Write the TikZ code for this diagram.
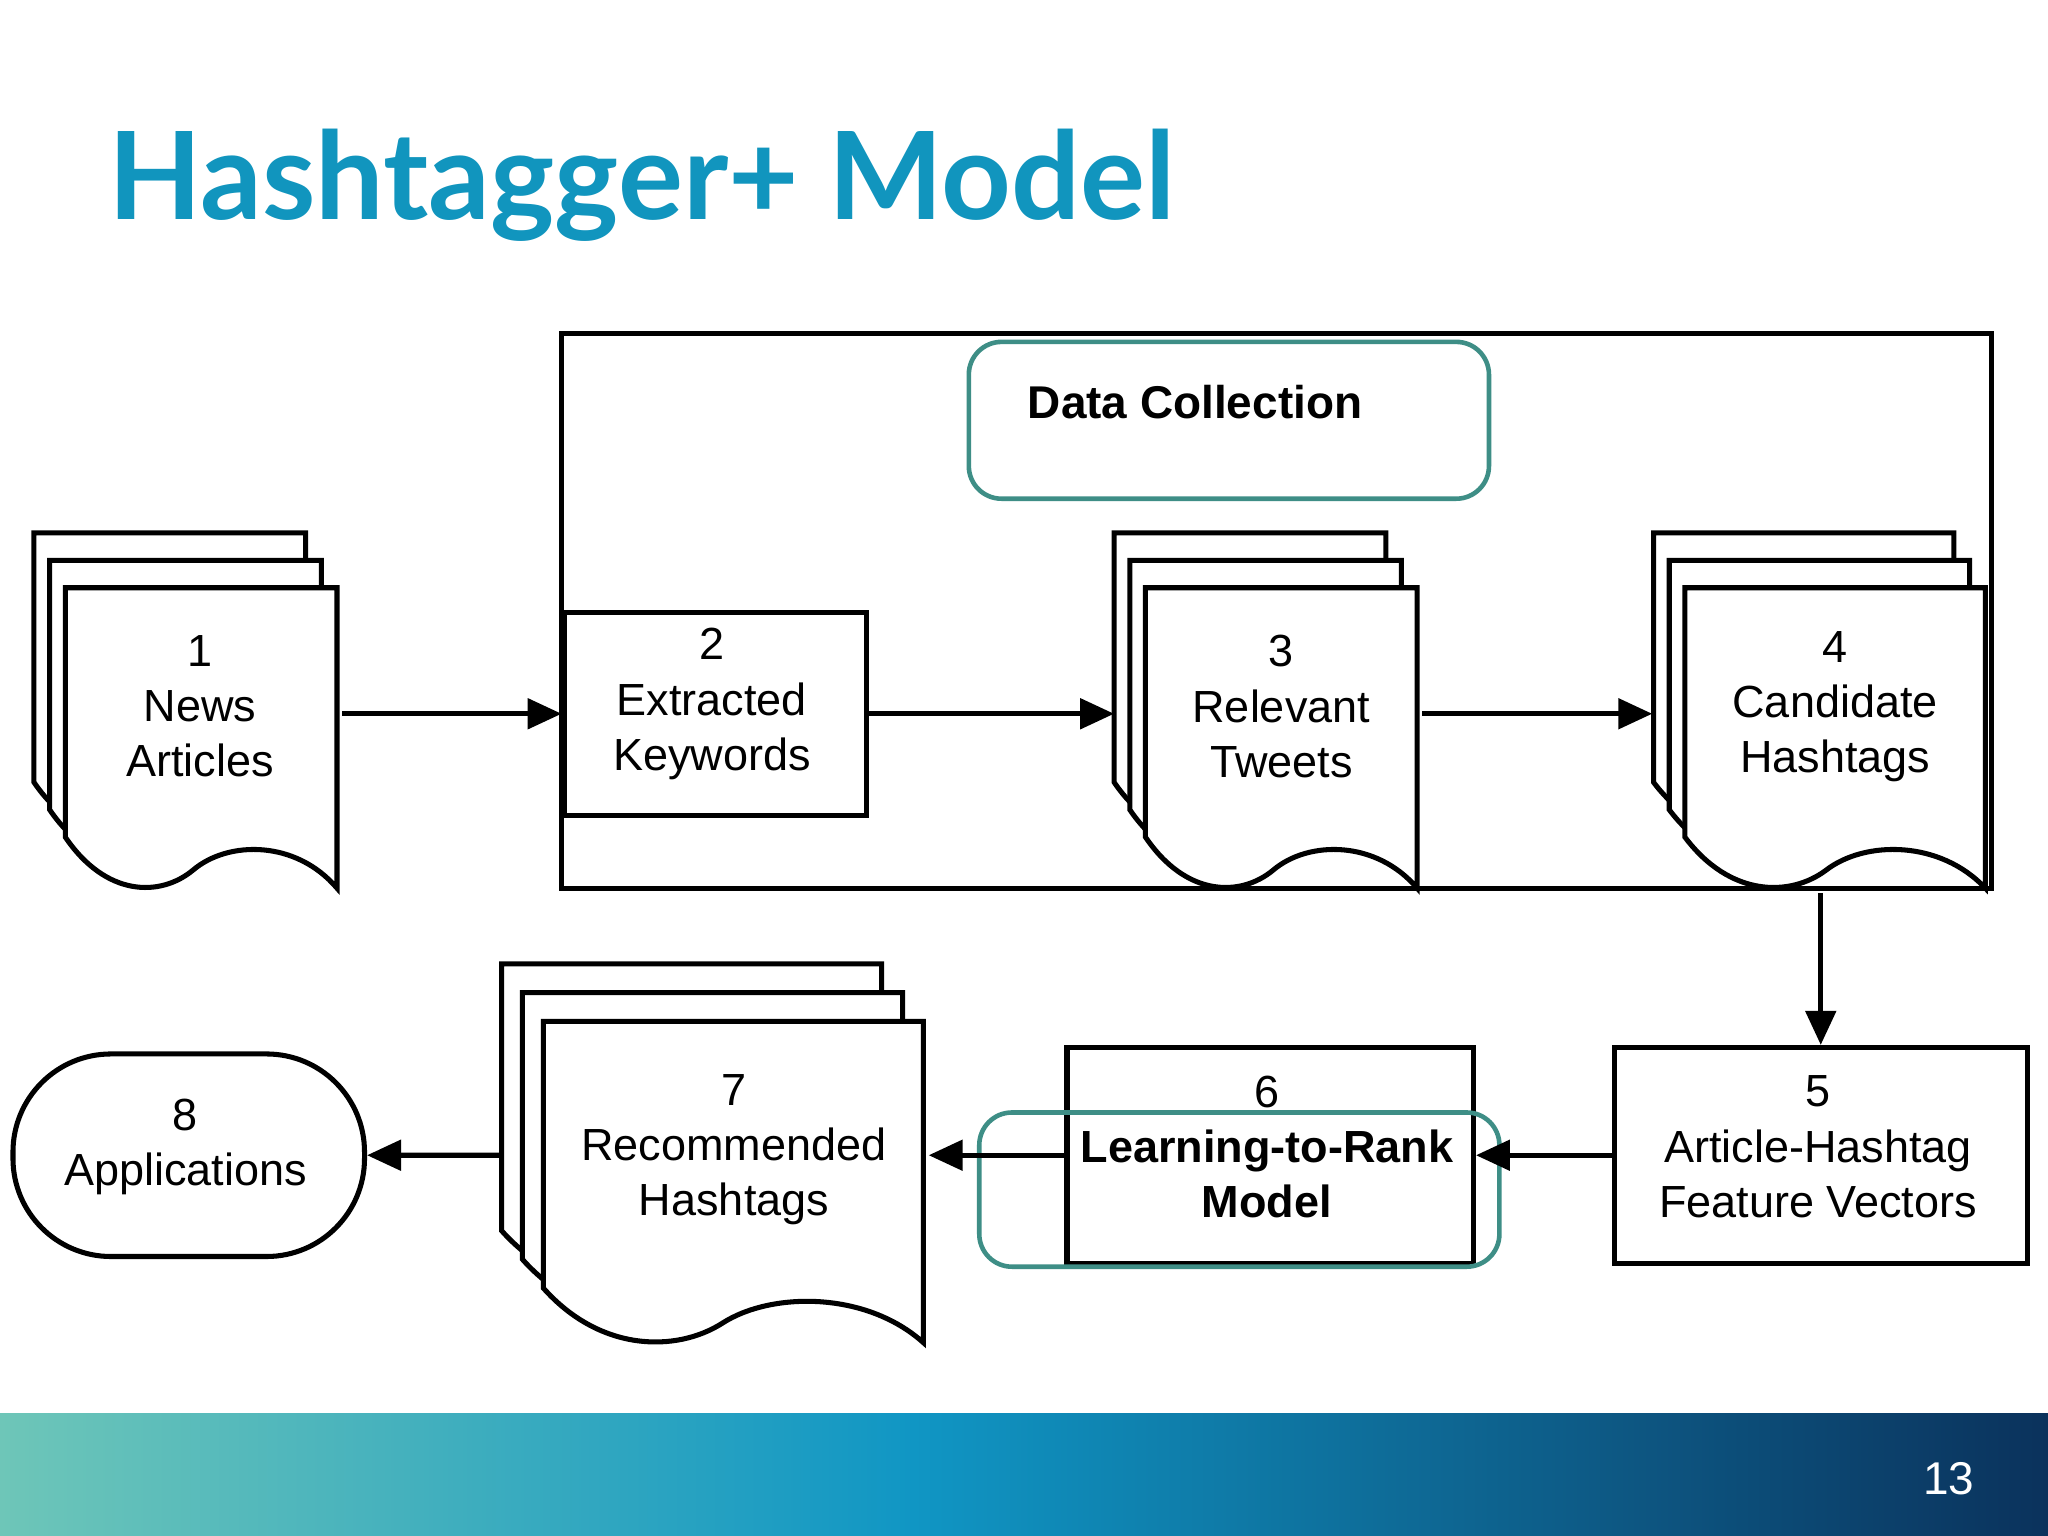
\documentclass[tikz,border=0pt]{standalone}
\usepackage{fontspec}
\setmainfont{Liberation Sans}
\newfontfamily\titlefont{Lato}
\usetikzlibrary{arrows.meta}
\definecolor{ttl}{HTML}{1195BE}
\definecolor{hl}{HTML}{3E8E86}
\tikzset{
 ln/.style={line width=1.1pt,draw=black},
 pg/.style={ln,fill=white},
 box/.style={ln,fill=white,inner sep=0,anchor=north west},
 txt/.style={align=center,font=\fontsize{9.8}{12}\selectfont},
 arr/.style={ln,-{Triangle[length=2.6mm,width=2.3mm]}},
 hlt/.style={draw=hl,line width=1pt,rounded corners=0.25cm},
}
\newcommand\mypage[4]{%
 \pgfmathsetmacro\xa{#1}\pgfmathsetmacro\xb{#1+#3}\pgfmathsetmacro\yb{#2+#4}%
 \pgfmathsetmacro\ua{#1+0.85*#3}\pgfmathsetmacro\ub{#1+0.6*#3}\pgfmathsetmacro\uc{#1+0.47*#3}%
 \pgfmathsetmacro\ud{#1+0.35*#3}\pgfmathsetmacro\ue{#1+0.15*#3}%
 \pgfmathsetmacro\va{#2+0.84*#4}\pgfmathsetmacro\vb{#2+0.94*#4}\pgfmathsetmacro\vc{#2+1.03*#4}\pgfmathsetmacro\vd{#2+0.83*#4}%
 \draw[pg] (\xa,#2) -- (\xb,#2) -- (\xb,\yb) .. controls (\ua,\va) and (\ub,\va) .. (\uc,\vb) .. controls (\ud,\vc) and (\ue,\vc) .. (\xa,\vd) -- cycle;}
\newcommand\mydoc[6]{% x y w h dx dy
 \mypage{#1-2*#5}{#2-2*#6}{#3}{#4}\mypage{#1-#5}{#2-#6}{#3}{#4}\mypage{#1}{#2}{#3}{#4}}
\begin{document}
\begin{tikzpicture}[x=0.01cm,y=-0.01cm]
\useasboundingbox (0,0) rectangle (1568,1176);
\fill[white] (0,0) rectangle (1568,1176);
\shade[left color={rgb,255:red,110;green,198;blue,184},right color={rgb,255:red,16;green,150;blue,196}] (0,1082) rectangle (700,1176);
\shade[left color={rgb,255:red,16;green,150;blue,196},right color={rgb,255:red,11;green,50;blue,92}] (699,1082) rectangle (1568,1176);
\node[text=white,font=\fontsize{10}{12}\selectfont] (pn) at (1492,1132) {13};
\node[anchor=base west,text=ttl,font=\titlefont\bfseries\fontsize{26.5}{32}\selectfont,inner sep=0] (title) at (82,168) {Hashtagger+ Model};

\draw[ln] (430,255) rectangle (1525,680);
\node[hlt,minimum width=3.98cm,minimum height=1.2cm,anchor=north west] (dc) at (740,260) {};
\node[txt,font=\bfseries\fontsize{10}{12}\selectfont] (dct) at (915,308) {Data Collection};

\mydoc{50}{450}{208}{230}{12}{21}
\node[box,minimum width=2.08cm,minimum height=2.3cm,draw=none,fill=none] (d1) at (50,450) {};
\node[txt] (t1) at (153,541) {1\\News\\Articles};

\node[box,minimum width=2.31cm,minimum height=1.55cm] (b2) at (430,467) {};
\node[txt] (t2) at (545,539) {2\\Extracted\\Keywords};

\mydoc{877}{450}{208}{230}{12}{21}
\node[box,minimum width=2.08cm,minimum height=2.3cm,draw=none,fill=none] (d3) at (877,450) {};
\node[box,minimum width=2.32cm,minimum height=2.3cm,draw=none,fill=none] (d3b) at (853,408) {};
\node[txt] (t3) at (981,541) {3\\Relevant\\Tweets};

\mydoc{1290}{450}{230}{230}{12}{21}
\node[box,minimum width=2.3cm,minimum height=2.3cm,draw=none,fill=none] (d4) at (1290,450) {};
\node[box,minimum width=2.55cm,minimum height=2.3cm,draw=none,fill=none] (d4b) at (1265,408) {};
\node[txt] (t4) at (1405,541) {4\\Candidate\\Hashtags};

\node[box,minimum width=3.16cm,minimum height=1.65cm] (b5) at (1234,800) {};
\node[txt] (t5) at (1392,878) {5\\Article-Hashtag\\Feature Vectors};

\node[box,minimum width=3.11cm,minimum height=1.65cm] (b6) at (815,800) {};
\node[txt] (t6) at (970,878) {6\\\bfseries Learning-to-Rank\\\bfseries Model};
\node[hlt,minimum width=3.98cm,minimum height=1.18cm,anchor=north west] (h6) at (748,850) {};

\mydoc{416}{782}{291}{246}{16}{22}
\node[box,minimum width=2.91cm,minimum height=2.46cm,draw=none,fill=none] (d7) at (416,782) {};
\node[box,minimum width=3.23cm,minimum height=2.46cm,draw=none,fill=none] (d7b) at (384,738) {};
\node[txt] (t7) at (562,880) {7\\Recommended\\Hashtags};

\node[box,rounded corners=0.75cm,minimum width=2.69cm,minimum height=1.55cm] (b8) at (8,805) {};
\node[txt] (t8) at (142,878) {8\\Applications};

\draw[arr] (d1.east |- b2.west) -- (b2.west);
\draw[arr] (b2.east) -- (d3b.west |- b2.west);
\draw[arr] (d3.east |- b2.west) -- (d4b.west |- b2.west);
\draw[arr] (d4.south -| b5.north) -- (b5.north);
\draw[arr] (b5.west) -- (b6.east);
\draw[arr] (b6.west) -- (d7.east |- b6.west);
\draw[arr] (d7b.west |- b6.west) -- (b8.east);
\end{tikzpicture}
\end{document}
